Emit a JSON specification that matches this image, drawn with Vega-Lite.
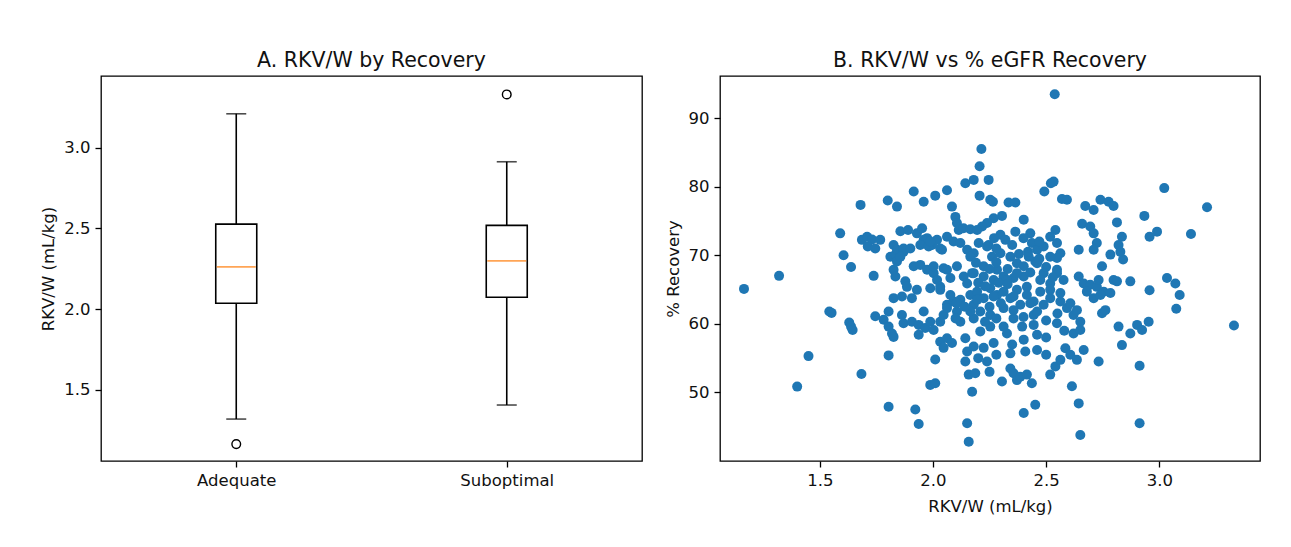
{
  "$schema": "https://vega.github.io/schema/vega-lite/v6.json",
  "background": "white",
  "padding": {"left": 40, "top": 49, "right": 10, "bottom": 10},
  "spacing": 21,
  "datasets": {
    "box": [
      {"group": "Adequate", "lower": 1.32, "q1": 2.037, "median": 2.262, "q3": 2.527, "upper": 3.21},
      {"group": "Suboptimal", "lower": 1.407, "q1": 2.074, "median": 2.30, "q3": 2.519, "upper": 2.913}
    ],
    "outliers": [
      {"group": "Adequate", "value": 1.165},
      {"group": "Suboptimal", "value": 3.33}
    ],
    "pts": [
      {"rkvw":1.165,"recovery":65.1},{"rkvw":1.32,"recovery":67.0},{"rkvw":1.40,"recovery":50.85},{"rkvw":1.45,"recovery":55.3},
      {"rkvw":1.542,"recovery":61.8},{"rkvw":1.552,"recovery":61.6},{"rkvw":1.59,"recovery":73.2},{"rkvw":1.605,"recovery":70.0},
      {"rkvw":1.63,"recovery":60.2},{"rkvw":1.638,"recovery":59.6},{"rkvw":1.645,"recovery":59.1},{"rkvw":1.638,"recovery":68.3},
      {"rkvw":1.68,"recovery":77.35},{"rkvw":1.684,"recovery":52.7},{"rkvw":1.686,"recovery":72.25},{"rkvw":1.709,"recovery":72.7},
      {"rkvw":1.731,"recovery":72.3},{"rkvw":1.767,"recovery":72.25},{"rkvw":1.712,"recovery":71.3},{"rkvw":1.745,"recovery":71.0},
      {"rkvw":1.738,"recovery":67.0},{"rkvw":1.745,"recovery":61.1},{"rkvw":1.782,"recovery":60.6},{"rkvw":1.80,"recovery":78.0},
      {"rkvw":1.841,"recovery":77.1},{"rkvw":1.804,"recovery":59.6},{"rkvw":1.819,"recovery":58.6},{"rkvw":1.826,"recovery":58.1},
      {"rkvw":1.804,"recovery":61.8},{"rkvw":1.804,"recovery":55.4},{"rkvw":1.804,"recovery":47.9},{"rkvw":1.812,"recovery":69.8},
      {"rkvw":1.834,"recovery":70.1},{"rkvw":1.841,"recovery":69.1},{"rkvw":1.870,"recovery":70.5},{"rkvw":1.826,"recovery":71.5},
      {"rkvw":1.841,"recovery":70.8},{"rkvw":1.870,"recovery":71.0},{"rkvw":1.900,"recovery":71.0},{"rkvw":1.856,"recovery":69.8},
      {"rkvw":1.856,"recovery":73.5},{"rkvw":1.890,"recovery":73.7},{"rkvw":1.915,"recovery":79.3},{"rkvw":1.929,"recovery":73.2},
      {"rkvw":1.952,"recovery":73.95},{"rkvw":1.974,"recovery":72.5},{"rkvw":1.996,"recovery":71.5},{"rkvw":2.018,"recovery":72.25},
      {"rkvw":2.040,"recovery":70.8},{"rkvw":1.959,"recovery":77.8},{"rkvw":1.959,"recovery":72.25},{"rkvw":1.944,"recovery":71.5},
      {"rkvw":1.981,"recovery":71.3},{"rkvw":1.988,"recovery":72.0},{"rkvw":2.032,"recovery":71.0},{"rkvw":2.010,"recovery":78.7},
      {"rkvw":2.062,"recovery":79.5},{"rkvw":2.084,"recovery":77.1},{"rkvw":2.099,"recovery":75.6},{"rkvw":2.106,"recovery":74.7},
      {"rkvw":2.114,"recovery":73.7},{"rkvw":2.135,"recovery":73.95},{"rkvw":2.165,"recovery":73.8},{"rkvw":2.062,"recovery":72.7},
      {"rkvw":2.091,"recovery":72.0},{"rkvw":2.121,"recovery":71.8},{"rkvw":2.151,"recovery":70.8},{"rkvw":2.180,"recovery":70.3},
      {"rkvw":1.826,"recovery":67.9},{"rkvw":1.834,"recovery":66.9},{"rkvw":1.878,"recovery":66.2},{"rkvw":1.885,"recovery":65.4},
      {"rkvw":1.915,"recovery":68.4},{"rkvw":1.944,"recovery":68.6},{"rkvw":1.974,"recovery":67.9},{"rkvw":2.003,"recovery":67.4},
      {"rkvw":2.018,"recovery":66.4},{"rkvw":2.032,"recovery":65.4},{"rkvw":2.003,"recovery":68.4},{"rkvw":2.047,"recovery":68.1},
      {"rkvw":2.062,"recovery":67.9},{"rkvw":2.106,"recovery":68.4},{"rkvw":2.077,"recovery":66.7},{"rkvw":2.136,"recovery":66.9},
      {"rkvw":2.151,"recovery":65.9},{"rkvw":2.173,"recovery":67.4},{"rkvw":1.826,"recovery":63.75},{"rkvw":1.863,"recovery":64.0},
      {"rkvw":1.907,"recovery":63.75},{"rkvw":1.929,"recovery":64.96},{"rkvw":1.863,"recovery":61.3},{"rkvw":1.870,"recovery":60.1},
      {"rkvw":1.907,"recovery":60.3},{"rkvw":1.937,"recovery":59.85},{"rkvw":1.937,"recovery":58.4},{"rkvw":1.959,"recovery":61.8},
      {"rkvw":1.966,"recovery":59.4},{"rkvw":1.988,"recovery":60.3},{"rkvw":2.003,"recovery":59.1},{"rkvw":2.032,"recovery":60.3},
      {"rkvw":2.047,"recovery":61.3},{"rkvw":2.062,"recovery":62.8},{"rkvw":2.091,"recovery":63.25},{"rkvw":2.106,"recovery":61.8},
      {"rkvw":2.121,"recovery":60.3},{"rkvw":2.032,"recovery":57.4},{"rkvw":2.062,"recovery":57.9},{"rkvw":2.084,"recovery":57.2},
      {"rkvw":2.047,"recovery":56.5},{"rkvw":2.010,"recovery":54.8},{"rkvw":1.922,"recovery":47.5},{"rkvw":1.937,"recovery":45.4},
      {"rkvw":1.988,"recovery":51.1},{"rkvw":2.010,"recovery":51.35},{"rkvw":2.151,"recovery":45.5},{"rkvw":2.158,"recovery":42.8},
      {"rkvw":2.143,"recovery":57.9},{"rkvw":2.151,"recovery":55.96},{"rkvw":2.143,"recovery":54.5},{"rkvw":2.158,"recovery":52.6},
      {"rkvw":2.173,"recovery":50.1},{"rkvw":2.180,"recovery":60.8},{"rkvw":2.209,"recovery":58.9},{"rkvw":2.253,"recovery":59.6},
      {"rkvw":2.312,"recovery":59.6},{"rkvw":2.327,"recovery":58.6},{"rkvw":2.356,"recovery":60.8},{"rkvw":2.394,"recovery":59.6},
      {"rkvw":2.401,"recovery":57.7},{"rkvw":2.445,"recovery":59.85},{"rkvw":2.460,"recovery":58.4},{"rkvw":2.408,"recovery":55.96},
      {"rkvw":2.460,"recovery":56.2},{"rkvw":2.342,"recovery":55.7},{"rkvw":2.180,"recovery":56.7},{"rkvw":2.224,"recovery":56.5},
      {"rkvw":2.268,"recovery":57.2},{"rkvw":2.239,"recovery":54.5},{"rkvw":2.187,"recovery":52.8},{"rkvw":2.305,"recovery":51.6},
      {"rkvw":2.342,"recovery":53.5},{"rkvw":2.356,"recovery":52.8},{"rkvw":2.371,"recovery":51.8},{"rkvw":2.386,"recovery":52.3},
      {"rkvw":2.415,"recovery":52.6},{"rkvw":2.437,"recovery":51.35},{"rkvw":2.452,"recovery":48.2},{"rkvw":2.401,"recovery":47.0},
      {"rkvw":2.518,"recovery":52.6},{"rkvw":2.541,"recovery":53.8},{"rkvw":2.563,"recovery":54.75},{"rkvw":2.585,"recovery":56.45},
      {"rkvw":2.607,"recovery":55.5},{"rkvw":2.636,"recovery":54.75},{"rkvw":2.666,"recovery":56.2},{"rkvw":2.548,"recovery":60.1},
      {"rkvw":2.621,"recovery":58.6},{"rkvw":2.651,"recovery":59.1},{"rkvw":2.614,"recovery":50.9},{"rkvw":2.644,"recovery":48.4},
      {"rkvw":2.651,"recovery":43.8},{"rkvw":2.732,"recovery":54.5},{"rkvw":2.747,"recovery":68.4},{"rkvw":2.84,"recovery":69.4},
      {"rkvw":2.644,"recovery":66.9},{"rkvw":2.666,"recovery":65.9},{"rkvw":2.695,"recovery":65.7},{"rkvw":2.724,"recovery":65.4},
      {"rkvw":2.754,"recovery":64.7},{"rkvw":2.784,"recovery":64.5},{"rkvw":2.798,"recovery":66.4},{"rkvw":2.872,"recovery":66.2},
      {"rkvw":2.813,"recovery":66.2},{"rkvw":2.957,"recovery":64.9},{"rkvw":3.034,"recovery":66.7},{"rkvw":3.071,"recovery":65.9},
      {"rkvw":3.090,"recovery":64.2},{"rkvw":3.075,"recovery":62.2},{"rkvw":2.747,"recovery":61.55},{"rkvw":2.762,"recovery":62.0},
      {"rkvw":2.820,"recovery":59.6},{"rkvw":2.872,"recovery":58.6},{"rkvw":2.902,"recovery":59.85},{"rkvw":2.924,"recovery":59.1},
      {"rkvw":2.953,"recovery":60.3},{"rkvw":2.835,"recovery":56.9},{"rkvw":2.913,"recovery":53.9},{"rkvw":2.913,"recovery":45.5},
      {"rkvw":3.33,"recovery":59.75},{"rkvw":2.538,"recovery":93.5},{"rkvw":2.214,"recovery":85.5},{"rkvw":2.206,"recovery":83.0},
      {"rkvw":2.143,"recovery":80.5},{"rkvw":2.180,"recovery":81.0},{"rkvw":2.246,"recovery":81.0},{"rkvw":2.206,"recovery":78.7},
      {"rkvw":2.253,"recovery":78.1},{"rkvw":2.265,"recovery":77.8},{"rkvw":2.334,"recovery":77.7},{"rkvw":2.364,"recovery":77.7},
      {"rkvw":2.492,"recovery":79.3},{"rkvw":2.521,"recovery":80.5},{"rkvw":2.533,"recovery":80.75},{"rkvw":2.570,"recovery":78.2},
      {"rkvw":2.592,"recovery":78.1},{"rkvw":2.673,"recovery":77.2},{"rkvw":2.710,"recovery":76.6},{"rkvw":2.740,"recovery":78.1},
      {"rkvw":2.776,"recovery":77.8},{"rkvw":2.798,"recovery":77.2},{"rkvw":3.022,"recovery":79.8},{"rkvw":3.211,"recovery":77.0},
      {"rkvw":2.934,"recovery":75.75},{"rkvw":2.957,"recovery":72.7},{"rkvw":2.990,"recovery":73.45},{"rkvw":3.140,"recovery":73.1},
      {"rkvw":2.813,"recovery":74.8},{"rkvw":2.835,"recovery":72.7},{"rkvw":2.820,"recovery":71.5},{"rkvw":2.828,"recovery":70.5},
      {"rkvw":2.784,"recovery":70.1},{"rkvw":2.659,"recovery":74.6},{"rkvw":2.695,"recovery":74.2},{"rkvw":2.710,"recovery":73.2},
      {"rkvw":2.724,"recovery":71.8},{"rkvw":2.710,"recovery":70.8},{"rkvw":2.644,"recovery":70.8},{"rkvw":2.541,"recovery":73.7},
      {"rkvw":2.518,"recovery":72.7},{"rkvw":2.563,"recovery":70.3},{"rkvw":2.548,"recovery":69.6},{"rkvw":2.401,"recovery":75.2},
      {"rkvw":2.364,"recovery":73.45},{"rkvw":2.430,"recovery":73.2},{"rkvw":2.437,"recovery":71.8},{"rkvw":2.460,"recovery":70.8},
      {"rkvw":2.489,"recovery":71.3},{"rkvw":2.452,"recovery":69.1},{"rkvw":2.305,"recovery":75.75},{"rkvw":2.268,"recovery":75.4},
      {"rkvw":2.239,"recovery":74.7},{"rkvw":2.217,"recovery":74.2},{"rkvw":2.195,"recovery":73.7},{"rkvw":2.202,"recovery":71.8},
      {"rkvw":2.246,"recovery":71.5},{"rkvw":2.298,"recovery":73.0},{"rkvw":2.320,"recovery":72.25},{"rkvw":2.548,"recovery":71.8},
      {"rkvw":2.239,"recovery":71.3},{"rkvw":2.261,"recovery":69.8},{"rkvw":2.298,"recovery":70.3},{"rkvw":2.342,"recovery":69.8},
      {"rkvw":2.371,"recovery":68.85},{"rkvw":2.401,"recovery":68.4},{"rkvw":2.423,"recovery":69.8},{"rkvw":2.460,"recovery":68.85},
      {"rkvw":2.489,"recovery":67.4},{"rkvw":2.518,"recovery":69.8},{"rkvw":2.548,"recovery":67.9},{"rkvw":2.165,"recovery":69.8},
      {"rkvw":2.180,"recovery":67.4},{"rkvw":2.224,"recovery":66.9},{"rkvw":2.268,"recovery":66.4},{"rkvw":2.312,"recovery":66.9},
      {"rkvw":2.356,"recovery":66.7},{"rkvw":2.401,"recovery":66.9},{"rkvw":2.518,"recovery":65.9},{"rkvw":2.577,"recovery":66.4},
      {"rkvw":2.732,"recovery":66.4},{"rkvw":1.988,"recovery":65.2},{"rkvw":2.032,"recovery":64.96},{"rkvw":2.077,"recovery":64.2},
      {"rkvw":2.121,"recovery":63.5},{"rkvw":2.165,"recovery":64.2},{"rkvw":2.062,"recovery":62.3},{"rkvw":2.180,"recovery":62.8},
      {"rkvw":2.165,"recovery":61.8},{"rkvw":2.195,"recovery":64.7},{"rkvw":2.224,"recovery":63.75},{"rkvw":2.253,"recovery":65.2},
      {"rkvw":2.283,"recovery":64.2},{"rkvw":2.312,"recovery":64.7},{"rkvw":2.342,"recovery":63.75},{"rkvw":2.371,"recovery":64.96},
      {"rkvw":2.386,"recovery":62.8},{"rkvw":2.415,"recovery":64.2},{"rkvw":2.445,"recovery":63.25},{"rkvw":2.474,"recovery":64.7},
      {"rkvw":2.489,"recovery":62.8},{"rkvw":2.518,"recovery":63.75},{"rkvw":2.563,"recovery":63.25},{"rkvw":2.592,"recovery":62.3},
      {"rkvw":2.621,"recovery":61.3},{"rkvw":2.651,"recovery":60.3},{"rkvw":2.680,"recovery":64.7},{"rkvw":2.710,"recovery":63.75},
      {"rkvw":2.740,"recovery":64.2},{"rkvw":2.209,"recovery":61.8},{"rkvw":2.253,"recovery":61.3},{"rkvw":2.312,"recovery":62.3},
      {"rkvw":2.356,"recovery":62.0},{"rkvw":2.445,"recovery":61.3},{"rkvw":2.460,"recovery":61.8},{"rkvw":2.224,"recovery":68.4},
      {"rkvw":2.283,"recovery":67.9},{"rkvw":2.327,"recovery":66.4},{"rkvw":2.371,"recovery":67.4},{"rkvw":2.415,"recovery":65.4},
      {"rkvw":2.474,"recovery":66.4},{"rkvw":2.518,"recovery":64.96},{"rkvw":2.563,"recovery":64.5},{"rkvw":2.607,"recovery":63.0},
      {"rkvw":2.636,"recovery":62.0},{"rkvw":2.430,"recovery":63.0},{"rkvw":2.356,"recovery":64.0},{"rkvw":2.268,"recovery":64.0},
      {"rkvw":2.195,"recovery":63.5},{"rkvw":2.104,"recovery":63.0},{"rkvw":2.548,"recovery":67.4},
      {"rkvw":2.20,"recovery":66.0},{"rkvw":2.23,"recovery":65.5},{"rkvw":2.29,"recovery":66.0},{"rkvw":2.30,"recovery":63.0},
      {"rkvw":2.33,"recovery":65.8},{"rkvw":2.25,"recovery":62.5},{"rkvw":2.19,"recovery":68.9},{"rkvw":2.25,"recovery":68.0},
      {"rkvw":2.28,"recovery":69.0},{"rkvw":2.33,"recovery":68.0},{"rkvw":2.38,"recovery":70.2},{"rkvw":2.43,"recovery":67.5},
      {"rkvw":2.47,"recovery":69.5},{"rkvw":2.50,"recovery":68.3},{"rkvw":2.53,"recovery":66.8},{"rkvw":2.28,"recovery":71.0},
      {"rkvw":2.35,"recovery":71.5},{"rkvw":2.40,"recovery":72.5},{"rkvw":2.47,"recovery":72.0},{"rkvw":2.42,"recovery":70.5},
      {"rkvw":2.27,"recovery":72.5},{"rkvw":2.10,"recovery":60.8},{"rkvw":2.14,"recovery":62.5},{"rkvw":2.23,"recovery":60.3},
      {"rkvw":2.28,"recovery":60.8},{"rkvw":2.40,"recovery":61.0},{"rkvw":2.50,"recovery":60.5},{"rkvw":2.55,"recovery":61.5},
      {"rkvw":2.58,"recovery":59.0},{"rkvw":2.50,"recovery":58.0},{"rkvw":2.20,"recovery":55.0},{"rkvw":2.28,"recovery":55.5},
      {"rkvw":2.25,"recovery":53.0},{"rkvw":2.35,"recovery":57.0},{"rkvw":2.50,"recovery":55.5}
    ]
  },
  "hconcat": [
    {
      "width": 541,
      "height": 385,
      "title": "A. RKV/W by Recovery",
      "layer": [
        {
          "data": {"name": "box"},
          "mark": {"type": "rule", "color": "black", "strokeWidth": 1.6},
          "encoding": {
            "x": {"field": "group", "type": "nominal", "scale": {"type": "point", "padding": 0.5}, "axis": {"title": null, "labelAngle": 0}},
            "y": {"field": "lower", "type": "quantitative", "scale": {"domain": [1.0604, 3.444], "nice": false, "zero": false}, "axis": {"title": "RKV/W (mL/kg)", "values": [1.5, 2.0, 2.5, 3.0], "format": ".1f"}},
            "y2": {"field": "upper"}
          }
        },
        {
          "data": {"name": "box"},
          "mark": {"type": "bar", "fill": "white", "stroke": "black", "strokeWidth": 1.6, "size": 41},
          "encoding": {
            "x": {"field": "group", "type": "nominal"},
            "y": {"field": "q1", "type": "quantitative"},
            "y2": {"field": "q3"}
          }
        },
        {
          "data": {"name": "box"},
          "mark": {"type": "tick", "color": "black", "size": 20, "thickness": 1.6},
          "encoding": {
            "x": {"field": "group", "type": "nominal"},
            "y": {"field": "lower", "type": "quantitative"}
          }
        },
        {
          "data": {"name": "box"},
          "mark": {"type": "tick", "color": "black", "size": 20, "thickness": 1.6},
          "encoding": {
            "x": {"field": "group", "type": "nominal"},
            "y": {"field": "upper", "type": "quantitative"}
          }
        },
        {
          "data": {"name": "box"},
          "mark": {"type": "tick", "color": "#ff7f0e", "size": 39, "thickness": 1.7},
          "encoding": {
            "x": {"field": "group", "type": "nominal"},
            "y": {"field": "median", "type": "quantitative"}
          }
        },
        {
          "data": {"name": "outliers"},
          "mark": {"type": "point", "shape": "circle", "filled": false, "stroke": "black", "strokeWidth": 1.4, "size": 75, "opacity": 1},
          "encoding": {
            "x": {"field": "group", "type": "nominal"},
            "y": {"field": "value", "type": "quantitative"}
          }
        }
      ]
    },
    {
      "width": 540,
      "height": 385,
      "title": "B. RKV/W vs % eGFR Recovery",
      "layer": [
        {
          "data": {"name": "pts"},
          "mark": {"type": "circle", "color": "#1f77b4", "size": 100, "opacity": 1},
          "encoding": {
            "x": {"field": "rkvw", "type": "quantitative", "scale": {"domain": [1.059, 3.445], "nice": false, "zero": false}, "axis": {"title": "RKV/W (mL/kg)", "titlePadding": 10, "values": [1.5, 2.0, 2.5, 3.0], "format": ".1f"}},
            "y": {"field": "recovery", "type": "quantitative", "scale": {"domain": [40.0, 96.15], "nice": false, "zero": false}, "axis": {"title": "% Recovery", "values": [50, 60, 70, 80, 90]}}
          }
        },
        {
          "mark": {"type": "rule", "color": "#1f77b4", "strokeWidth": 2.5, "strokeDash": [9.5, 4.1]},
          "encoding": {"y": {"datum": 60}}
        }
      ]
    }
  ],
  "config": {
    "font": "DejaVu Sans",
    "view": {"stroke": "black", "strokeWidth": 1.3},
    "title": {"fontSize": 20.5, "fontWeight": "normal", "color": "#111", "offset": 5, "anchor": "middle"},
    "axis": {
      "domain": false,
      "grid": false,
      "ticks": true,
      "tickColor": "black",
      "tickSize": 6,
      "tickWidth": 1.3,
      "labelFontSize": 16.5,
      "labelColor": "#111",
      "labelPadding": 5,
      "titleFontSize": 16.5,
      "titleFontWeight": "normal",
      "titleColor": "#111",
      "titlePadding": 7
    }
  }
}
